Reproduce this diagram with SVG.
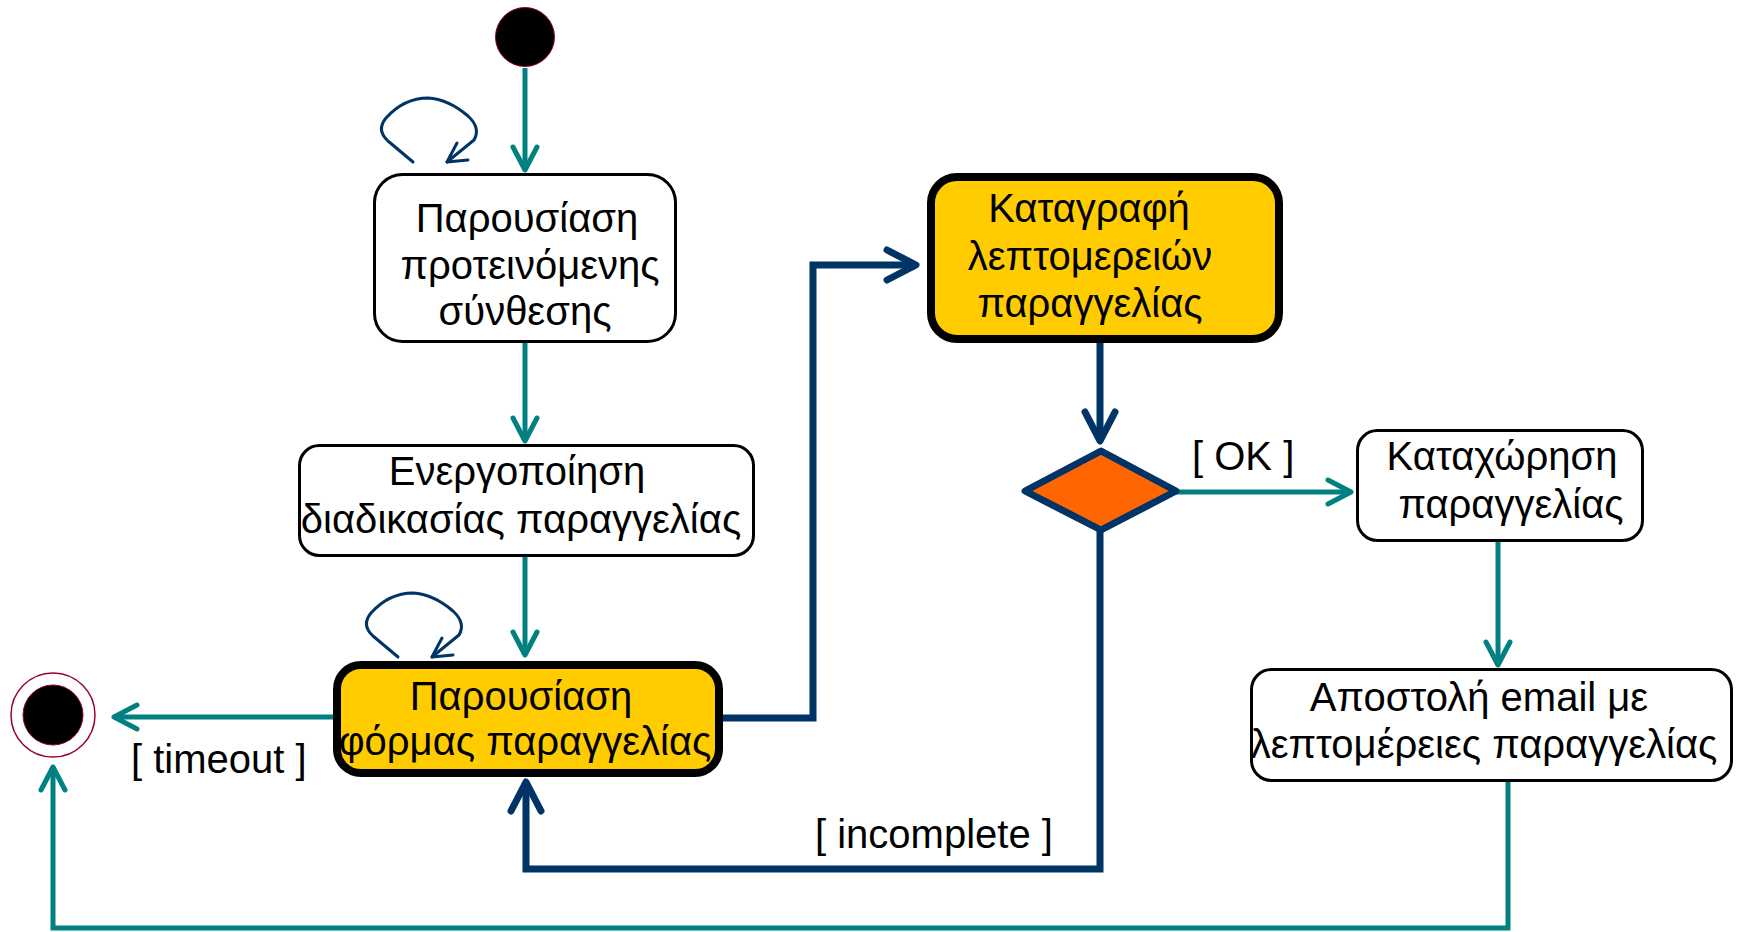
<svg xmlns="http://www.w3.org/2000/svg" xmlns:xlink="http://www.w3.org/1999/xlink" width="1741" height="932" viewBox="0 0 1741 932">
  <style>
    .label { font-family: "Liberation Sans", Arial, sans-serif; font-size: 40px; fill: #000; }
    .mid { text-anchor: middle; }
    .state { fill: #fff; stroke: #000; stroke-width: 3; }
    .active { fill: #FFCC00; stroke: #000; stroke-width: 8; }
    .teal { fill: none; stroke: #008080; stroke-width: 5; }
    .navy { fill: none; stroke: #003366; stroke-width: 7; }
    .loop { fill: none; stroke: #003366; stroke-width: 3; stroke-linecap: round; stroke-linejoin: round; }
  </style>
  <defs>
    <marker id="tealHead" markerUnits="userSpaceOnUse" viewBox="-40 -30 60 60" refX="0" refY="0" markerWidth="60" markerHeight="60" orient="auto" overflow="visible">
      <path d="M-23,-12 L0,0 L-23,12" fill="none" stroke="#008080" stroke-width="5" stroke-linecap="round" stroke-linejoin="round"/>
    </marker>
    <marker id="navyHead" markerUnits="userSpaceOnUse" viewBox="-40 -30 60 60" refX="0" refY="0" markerWidth="60" markerHeight="60" orient="auto" overflow="visible">
      <path d="M-29,-15 L0,0 L-29,15" fill="none" stroke="#003366" stroke-width="7" stroke-linecap="round" stroke-linejoin="round"/>
    </marker>
    <!-- self-transition loop drawn above a state -->
    <g id="selfLoop">
      <path class="loop" d="M413,162 L388,141 Q376,130 386,118 Q404,98 428,98 Q448,99 468,116 Q481,128 474,140 L447,162"/>
      <path class="loop" d="M457,143 L447,162 L468,160"/>
    </g>
  </defs>

  <!-- connectors -->
  <g id="connectors">
    <path class="teal" d="M525,68 V170" marker-end="url(#tealHead)"/>
    <path class="teal" d="M525,343 V441" marker-end="url(#tealHead)"/>
    <path class="teal" d="M525,557 V655" marker-end="url(#tealHead)"/>
    <path class="teal" d="M333,717 H114" marker-end="url(#tealHead)"/>
    <path class="navy" d="M723,718 H813 V265 H916" marker-end="url(#navyHead)"/>
    <path class="navy" d="M1100,343 V441" marker-end="url(#navyHead)"/>
    <path class="navy" d="M1100,530 V869 H526 V782" marker-end="url(#navyHead)"/>
    <path class="teal" d="M1176,492 H1351" marker-end="url(#tealHead)"/>
    <path class="teal" d="M1498,542 V665" marker-end="url(#tealHead)"/>
    <path class="teal" d="M1508,782 V928 H53 V767" marker-end="url(#tealHead)"/>
    <use xlink:href="#selfLoop"/>
    <use xlink:href="#selfLoop" transform="translate(-15,495)"/>
    <text class="label" x="131" y="773">[ timeout ]</text>
    <text class="label" x="1192" y="470">[ OK ]</text>
    <text class="label" x="815" y="848">[ incomplete ]</text>
  </g>

  <!-- initial node -->
  <g id="initial">
    <circle cx="525" cy="37" r="29.5" fill="#000" stroke="#990033" stroke-width="1"/>
  </g>

  <!-- final node -->
  <g id="final">
    <circle cx="53" cy="715" r="42" fill="#fff" stroke="#990033" stroke-width="1.5"/>
    <circle cx="53" cy="715" r="30" fill="#000" stroke="#990033" stroke-width="1"/>
  </g>

  <g id="presentComposition">
    <rect class="state" x="374.5" y="174.5" width="301" height="167" rx="28"/>
    <text class="label mid" x="527" y="232">Παρουσίαση</text>
    <text class="label mid" x="530" y="279">προτεινόμενης</text>
    <text class="label mid" x="525" y="325">σύνθεσης</text>
  </g>

  <g id="activateOrdering">
    <rect class="state" x="299.5" y="445.5" width="454" height="110" rx="20"/>
    <text class="label mid" x="517" y="485">Ενεργοποίηση</text>
    <text class="label mid" x="521" y="533">διαδικασίας παραγγελίας</text>
  </g>

  <g id="presentOrderForm">
    <rect class="active" x="337" y="665" width="382" height="108" rx="24"/>
    <text class="label mid" x="521" y="710">Παρουσίαση</text>
    <text class="label mid" x="525" y="755">φόρμας παραγγελίας</text>
  </g>

  <g id="recordOrderDetails">
    <rect class="active" x="931" y="177" width="348" height="162" rx="26"/>
    <text class="label mid" x="1089" y="222">Καταγραφή</text>
    <text class="label mid" x="1090" y="270">λεπτομερειών</text>
    <text class="label mid" x="1090" y="317">παραγγελίας</text>
  </g>

  <g id="decision">
    <polygon points="1025,491 1101,451 1176,491 1101,530" fill="#FF6600" stroke="#003366" stroke-width="7" stroke-linejoin="round"/>
  </g>

  <g id="registerOrder">
    <rect class="state" x="1357.5" y="430.5" width="285" height="110" rx="20"/>
    <text class="label mid" x="1502" y="470">Καταχώρηση</text>
    <text class="label mid" x="1511" y="518">παραγγελίας</text>
  </g>

  <g id="sendEmail">
    <rect class="state" x="1251.5" y="669.5" width="480" height="111" rx="20"/>
    <text class="label mid" x="1479" y="711">Αποστολή email με</text>
    <text class="label mid" x="1484" y="758">λεπτομέρειες παραγγελίας</text>
  </g>
</svg>
